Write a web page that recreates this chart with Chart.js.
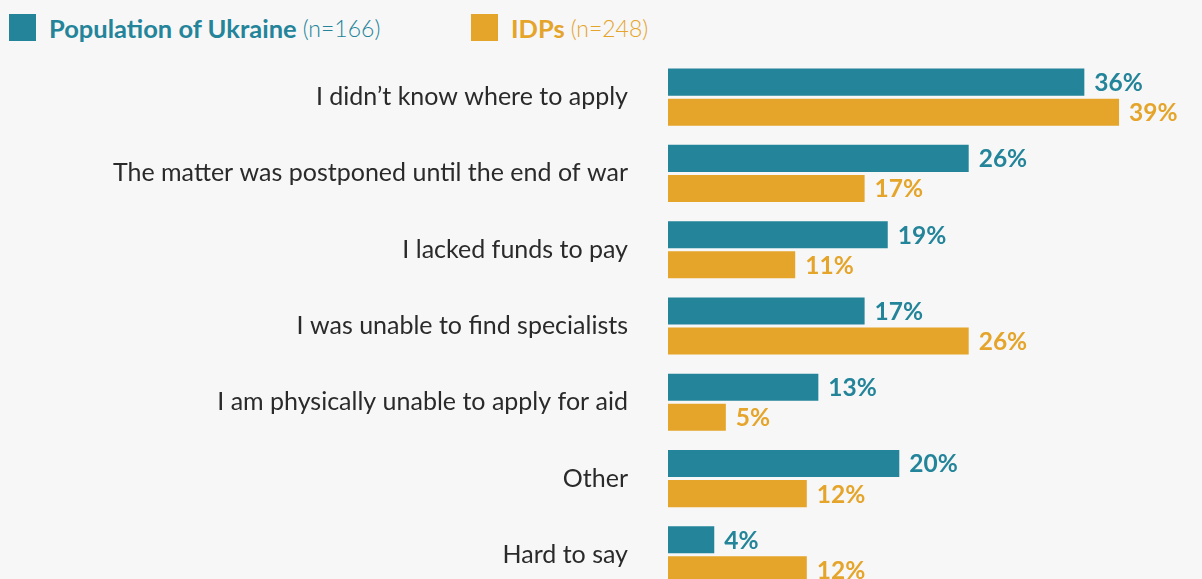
<!DOCTYPE html>
<html>
<head>
<meta charset="utf-8">
<script src="https://cdn.jsdelivr.net/npm/chart.js@4.4.1/dist/chart.umd.min.js"></script>
<style>
  html, body { margin: 0; padding: 0; background: #f7f7f7; overflow: hidden; }
  #wrap { position: relative; width: 1202px; height: 579px; overflow: hidden; }
  #chartBox { position: absolute; left: 0; top: 0; width: 1202px; height: 648px; }
  .legend { position: absolute; top: 14px; height: 27px; display: flex; align-items: center; font-family: Lato, sans-serif; white-space: nowrap; }
  .legend .box { width: 27px; height: 27px; margin-right: 13px; }
  .legend b { font-weight: 700; font-size: 25.5px; margin-right: 6px; }
  .legend span { font-weight: 300; font-size: 23px; }
</style>
</head>
<body>
<div id="wrap">
  <div class="legend" style="left:9px; color:#23849a"><div class="box" style="background:#23849a"></div><b>Population of Ukraine</b><span>(n=166)</span></div>
  <div class="legend" style="left:471px; color:#e5a42a"><div class="box" style="background:#e5a42a"></div><b>IDPs</b><span>(n=248)</span></div>
  <div id="chartBox"><canvas id="myChart"></canvas></div>
</div>
<script>
'use strict';

let categories = [
  'I didn\u2019t know where to apply',
  'The matter was postponed until the end of war',
  'I lacked funds to pay',
  'I was unable to find specialists',
  'I am physically unable to apply for aid',
  'Other',
  'Hard to say'
];
let ukraineValues = [36, 26, 19, 17, 13, 20, 4];
let idpValues = [39, 17, 11, 26, 5, 12, 12];

let teal = '#23849a';
let orange = '#e5a42a';

// draws the "36%" style labels at the end of each bar
let valueLabels = {
  id: 'valueLabels',
  afterDatasetsDraw(chart) {
    let ctx = chart.ctx;
    ctx.save();
    ctx.font = '700 24.5px Lato, sans-serif';
    ctx.textBaseline = 'middle';
    ctx.textAlign = 'left';
    chart.data.datasets.forEach((ds, i) => {
      let meta = chart.getDatasetMeta(i);
      ctx.fillStyle = ds.backgroundColor;
      meta.data.forEach((bar, j) => {
        ctx.fillText(ds.data[j] + '%', bar.x + 10, bar.y + 1);
      });
    });
    ctx.restore();
  }
};

let ctx = document.getElementById('myChart').getContext('2d');
new Chart(ctx, {
  type: 'bar',
  data: {
    labels: categories,
    datasets: [{
      label: 'Population of Ukraine',
      data: ukraineValues,
      backgroundColor: teal,
      categoryPercentage: 0.788,
      barPercentage: 0.9
    },
    {
      label: 'IDPs',
      data: idpValues,
      backgroundColor: orange,
      categoryPercentage: 0.788,
      barPercentage: 0.9
    }]
  },
  options: {
    indexAxis: 'y',
    responsive: true,
    maintainAspectRatio: false,
    animation: false,
    layout: { padding: { top: 59, bottom: 0, left: 0, right: 2 } },
    plugins: {
      legend: { display: false },
      tooltip: { enabled: false }
    },
    scales: {
      x: { display: false, min: 0, max: 46 },
      y: {
        afterFit(scale) { scale.width = 668; },
        grid: { display: false, drawTicks: false },
        border: { display: false },
        ticks: {
          padding: 40,
          color: '#2a2a2a',
          font: { family: 'Lato', size: 25, weight: 400 }
        }
      }
    }
  },
  plugins: [valueLabels]
});
</script>
</body>
</html>
